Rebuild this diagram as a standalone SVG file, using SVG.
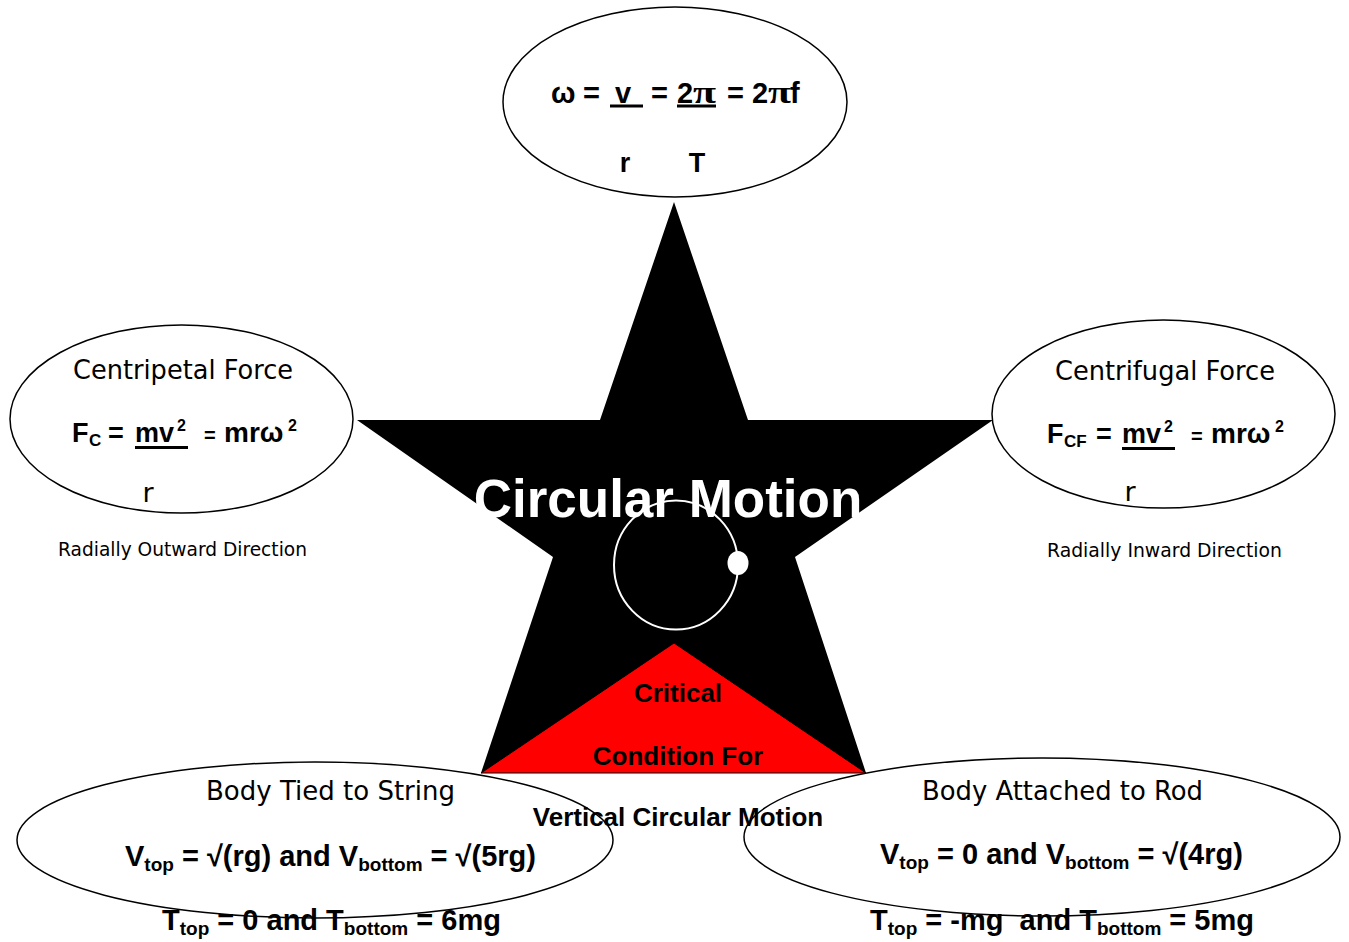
<svg xmlns="http://www.w3.org/2000/svg" width="1349" height="942" viewBox="0 0 1349 942">
<style>
.ell{fill:none;stroke:#000;stroke-width:1.5}
.b{font-family:"Liberation Sans",Arial,sans-serif;font-weight:bold;fill:#000}
.t{font-family:"DejaVu Sans","Liberation Sans",sans-serif;fill:#000}
.pi{font-family:"Liberation Serif","Times New Roman",serif;font-weight:bold;font-size:31px;fill:#000}
.ul{fill:#000}
</style>
<rect width="1349" height="942" fill="#fff"/>
<g id="connectors"/>
<g id="star">
<polygon points="674,202 748,420 993,420 795,557 866,773 674,690 481,773 553,557 357,420 600,420" fill="#000"/>
<text x="668" y="517" text-anchor="middle" font-family="Liberation Sans, Arial, sans-serif" font-weight="bold" font-size="53" fill="#fff">Circular Motion</text>
<ellipse cx="676" cy="565" rx="62" ry="64.5" fill="none" stroke="#fff" stroke-width="2"/>
<ellipse cx="738" cy="563" rx="10.5" ry="12" fill="#fff"/>
</g>
<g id="critical">
<polygon points="674,643 866,773 481,773" fill="#f00" stroke="#000" stroke-width="1"/>
<text class="b" x="678" y="702" text-anchor="middle" font-size="26">Critical</text>
<text class="b" x="678" y="765" text-anchor="middle" font-size="26">Condition For</text>
<text class="b" x="678" y="826" text-anchor="middle" font-size="26">Vertical Circular Motion</text>
</g>
<g id="omega">
<ellipse class="ell" cx="675" cy="102" rx="172" ry="95"/>
<text class="b" y="103" font-size="29"><tspan x="551">ω</tspan><tspan x="583">=</tspan><tspan x="615">v</tspan><tspan x="651">=</tspan><tspan x="677">2</tspan><tspan x="727">=</tspan><tspan x="752">2</tspan><tspan x="790">f</tspan></text>
<text class="pi" x="693" y="103" textLength="23" lengthAdjust="spacingAndGlyphs">π</text>
<text class="pi" x="768" y="103" textLength="23" lengthAdjust="spacingAndGlyphs">π</text>
<rect class="ul" x="610" y="104.5" width="33" height="3"/>
<rect class="ul" x="677" y="104.5" width="39" height="3"/>
<text class="b" x="625" y="172" text-anchor="middle" font-size="27">r</text>
<text class="b" x="697" y="172" text-anchor="middle" font-size="27">T</text>
</g>
<g id="centripetal">
<ellipse class="ell" cx="181.5" cy="419" rx="171.5" ry="94"/>
<text class="t" x="73" y="379" font-size="27" textLength="220" lengthAdjust="spacingAndGlyphs">Centripetal Force</text>
<text class="b" y="442" font-size="27"><tspan x="72">F</tspan><tspan x="89" y="446" font-size="17">C</tspan><tspan x="108" y="442">=</tspan><tspan x="135">mv</tspan><tspan x="177" y="431" font-size="16">2</tspan><tspan x="204" y="442" font-size="20">=</tspan><tspan x="224" font-size="28">mrω</tspan><tspan x="288" y="431" font-size="16">2</tspan></text>
<rect class="ul" x="135" y="446" width="53" height="3"/>
<text class="t" x="148" y="502" text-anchor="middle" font-size="27">r</text>
<text class="t" x="58" y="556" font-size="20" textLength="249" lengthAdjust="spacingAndGlyphs">Radially Outward Direction</text>
</g>
<g id="centrifugal">
<ellipse class="ell" cx="1163.5" cy="414" rx="171.5" ry="94"/>
<text class="t" x="1055" y="380" font-size="27" textLength="220" lengthAdjust="spacingAndGlyphs">Centrifugal Force</text>
<text class="b" y="443" font-size="27"><tspan x="1047">F</tspan><tspan x="1064" y="447" font-size="17">CF</tspan><tspan x="1096" y="443">=</tspan><tspan x="1122">mv</tspan><tspan x="1164" y="432" font-size="16">2</tspan><tspan x="1191" y="443" font-size="20">=</tspan><tspan x="1211" font-size="28">mrω</tspan><tspan x="1275" y="432" font-size="16">2</tspan></text>
<rect class="ul" x="1122" y="447" width="53" height="3"/>
<text class="t" x="1130" y="501" text-anchor="middle" font-size="27">r</text>
<text class="t" x="1047" y="557" font-size="20" textLength="235" lengthAdjust="spacingAndGlyphs">Radially Inward Direction</text>
</g>
<g id="string">
<ellipse class="ell" cx="315" cy="840" rx="298" ry="78"/>
<text class="t" x="206" y="800" font-size="27" textLength="249" lengthAdjust="spacingAndGlyphs">Body Tied to String</text>
<text class="b" x="125" y="866" font-size="29">V<tspan font-size="19" dy="5">top</tspan><tspan dy="-5"> = √(rg) and V</tspan><tspan font-size="19" dy="5">bottom</tspan><tspan dy="-5"> = √(5rg)</tspan></text>
<text class="b" x="162" y="930" font-size="29">T<tspan font-size="19" dy="5">top</tspan><tspan dy="-5"> = 0 and T</tspan><tspan font-size="19" dy="5">bottom</tspan><tspan dy="-5"> = 6mg</tspan></text>
</g>
<g id="rod">
<ellipse class="ell" cx="1042" cy="837" rx="298" ry="79"/>
<text class="t" x="922" y="800" font-size="27" textLength="281" lengthAdjust="spacingAndGlyphs">Body Attached to Rod</text>
<text class="b" x="880" y="864" font-size="29">V<tspan font-size="19" dy="5">top</tspan><tspan dy="-5"> = 0 and V</tspan><tspan font-size="19" dy="5">bottom</tspan><tspan dy="-5"> = √(4rg)</tspan></text>
<text class="b" x="870" y="930" font-size="29" xml:space="preserve">T<tspan font-size="19" dy="5">top</tspan><tspan dy="-5"> = -mg  and T</tspan><tspan font-size="19" dy="5">bottom</tspan><tspan dy="-5"> = 5mg</tspan></text>
</g>
</svg>
